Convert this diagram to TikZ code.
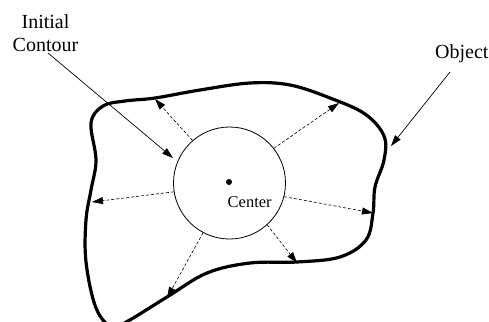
\documentclass[tikz,border=0pt]{standalone}
\usepackage{fontspec}
\setmainfont{Liberation Serif}
\usetikzlibrary{arrows.meta}
\tikzset{
  arrowtipstyle/.style={-{Triangle[length=11pt,width=7pt]}},
  growarrow/.style={arrowtipstyle, line width=0.6pt, dash pattern=on 3pt off 2pt},
  pointerarrow/.style={arrowtipstyle, line width=0.7pt},
  lbltext/.style={font=\fontsize{20}{23}\selectfont, inner sep=0pt, align=center},
  objline/.style={line width=3.2pt, line join=round},
}
\begin{document}
\begin{tikzpicture}[x=1pt,y=-1pt]
\useasboundingbox (0,0) rectangle (489,321);
\clip (0,0) rectangle (489,321);
% object contour
\draw[objline] plot[smooth cycle, tension=0.6] coordinates {
  (96,160) (91,123) (103,106) (125,101) (155,98) (200,90) (250,83) (290,85)
  (330,98) (365,114) (384,136) (384,160) (375,187) (373,213) (366,240)
  (340,257) (297,262) (250,263) (207,273) (167,297) (128,321) (112,327)
  (96,308) (86,262) (86,220) (91,190)};
% initial contour
\node[circle, draw, line width=0.8pt, minimum size=112pt, inner sep=0pt] (c) at (229.5,183) {};
\fill (229,182) circle (3pt) coordinate (ctr);
\node[font=\fontsize{16.5}{19}\selectfont, inner sep=0pt, anchor=base west] (clab) at (227.5,207.7) {Center};
% tips on object
\coordinate (t1) at (155,99);
\coordinate (t2) at (339,103);
\coordinate (t3) at (92,202);
\coordinate (t4) at (167,298);
\coordinate (t5) at (373,213);
\coordinate (t6) at (297,263);
\draw[growarrow] (c.131) -- (t1);
\draw[growarrow] (c.38) -- (t2);
\draw[growarrow] (c.189) -- (t3);
\draw[growarrow] (c.242) -- (t4);
\draw[growarrow] (c.346) -- (t5);
\draw[growarrow] (c.312) -- (t6);
% labels
\node[lbltext] (ic) at (45.5,33) {Initial\\Contour};
\node[lbltext, anchor=base west] (ob) at (435,58) {Object};
\coordinate (ics) at (48,53);
\coordinate (ict) at (173,158);
\coordinate (obs) at (450,72);
\coordinate (obt) at (391,146);
\draw[pointerarrow] (ics) -- (ict);
\draw[pointerarrow] (obs) -- (obt);
\end{tikzpicture}
\end{document}
